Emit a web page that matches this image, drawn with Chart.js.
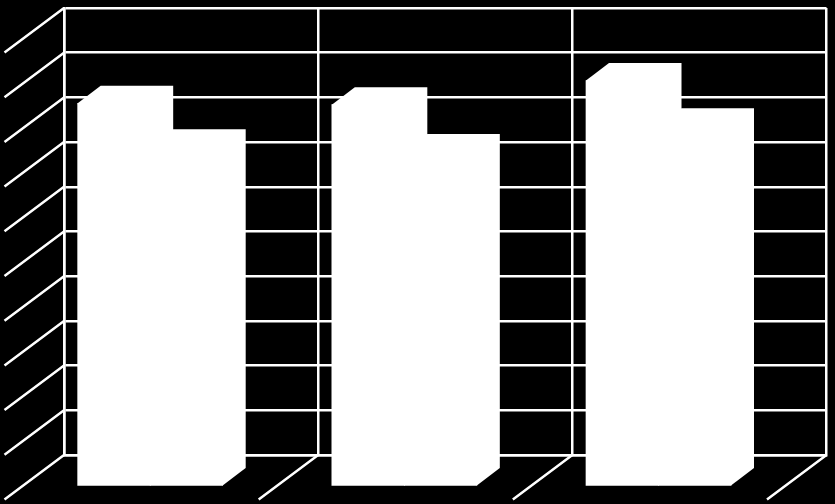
<!DOCTYPE html>
<html>
<head>
<meta charset="utf-8">
<title>Chart</title>
<script src="https://cdn.jsdelivr.net/npm/chart.js@4/dist/chart.umd.min.js"></script>
<style>
    html, body { margin: 0; padding: 0; background: #000; }
    canvas { display: block; }
</style>
</head>
<body>
<canvas id="chart1" width="835" height="504"></canvas>
<script>
// Values (back wall scale 0 to 10, no labels shown)
const categories = ['1', '2', '3'];
const seriesA = [8.55, 8.52, 9.06];
const seriesB = [7.58, 7.47, 8.05];
const axisMin = 0;
const axisMax = 10;
const axisStep = 1;

// 3D look: how far the bar fronts and floor lines sit from the back wall
const barDepthX = 23;
const barDepthY = 17.5;
const wallDepthX = 59.5;
const wallDepthY = 44.5;
const barFloorDrop = 0.682; // bar front baseline below the wall floor, in axis units
const groupShift = 0.161;   // bar group sits left of the category centre, in categories
const lineWidth = 2.5;

function barPoints(values) {
    return values.map((v, i) => ({ x: i, y: [0, v] }));
}

// Draws the receding floor and wall lines plus the top and side faces of the bars
const depthPlugin = {
    id: 'depth',
    beforeDatasetsDraw(chart) {
        const ctx = chart.ctx;
        const area = chart.chartArea;
        const wall = chart.scales.y;
        const cats = chart.scales.x;

        ctx.save();
        ctx.strokeStyle = '#fff';
        ctx.lineWidth = lineWidth;
        ctx.beginPath();
        wall.ticks.forEach(t => {
            const y = wall.getPixelForValue(t.value);
            ctx.moveTo(area.left, y);
            ctx.lineTo(area.left - wallDepthX, y + wallDepthY);
        });
        for (let i = 0; i <= categories.length; i++) {
            const x = cats.getPixelForValue(i - 0.5);
            ctx.moveTo(x, area.bottom);
            ctx.lineTo(x - wallDepthX, area.bottom + wallDepthY);
        }
        ctx.stroke();

        ctx.fillStyle = '#fff';
        chart.data.datasets.forEach((ds, d) => {
            chart.getDatasetMeta(d).data.forEach(bar => {
                const left = bar.x - bar.width / 2;
                const right = bar.x + bar.width / 2;
                ctx.beginPath();
                ctx.moveTo(left, bar.y);
                ctx.lineTo(left + barDepthX, bar.y - barDepthY);
                ctx.lineTo(right + barDepthX, bar.y - barDepthY);
                ctx.lineTo(right + barDepthX, bar.base - barDepthY);
                ctx.lineTo(right, bar.base);
                ctx.closePath();
                ctx.fill();
            });
        });
        ctx.restore();
    }
};

const ctx = document.getElementById('chart1').getContext('2d');
new Chart(ctx, {
    type: 'bar',
    data: {
        labels: categories,
        datasets: [{
            label: 'Series 1',
            data: barPoints(seriesA),
            backgroundColor: '#fff',
            xAxisID: 'xBars',
            yAxisID: 'yBars',
            barThickness: 72.5,
            clip: false
        }, {
            label: 'Series 2',
            data: barPoints(seriesB),
            backgroundColor: '#fff',
            xAxisID: 'xBars',
            yAxisID: 'yBars',
            barThickness: 72.5,
            clip: false
        }]
    },
    options: {
        responsive: false,
        animation: false,
        layout: { padding: { left: 64, right: 8.5, top: 8, bottom: 49 } },
        plugins: {
            legend: { display: false },
            tooltip: { enabled: false }
        },
        scales: {
            x: {
                type: 'category',
                offset: true,
                ticks: { display: false },
                border: { color: '#fff', width: lineWidth },
                grid: { color: '#fff', lineWidth: lineWidth, drawTicks: false, offset: true }
            },
            y: {
                type: 'linear',
                min: axisMin,
                max: axisMax,
                ticks: { display: false, stepSize: axisStep },
                border: { color: '#fff', width: lineWidth },
                grid: { color: '#fff', lineWidth: lineWidth, drawTicks: false }
            },
            // hidden scales that carry the bars, shifted towards the viewer
            xBars: {
                type: 'linear',
                display: false,
                offset: false,
                min: -0.5 + groupShift,
                max: categories.length - 0.5 + groupShift
            },
            yBars: {
                type: 'linear',
                display: false,
                min: axisMin + barFloorDrop,
                max: axisMax + barFloorDrop
            }
        }
    },
    plugins: [depthPlugin]
});
</script>
</body>
</html>
